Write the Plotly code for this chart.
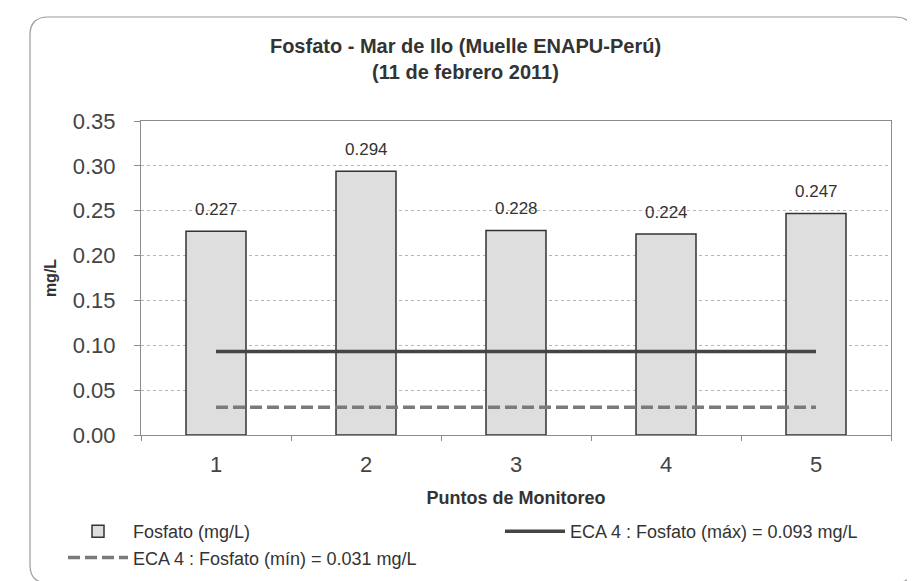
import plotly.graph_objects as go

# ---- data ----
puntos = ["1", "2", "3", "4", "5"]
fosfato = [0.227, 0.294, 0.228, 0.224, 0.247]
eca_max = [0.093, 0.093, 0.093, 0.093, 0.093]
eca_min = [0.031, 0.031, 0.031, 0.031, 0.031]
y_ticks = [0.00, 0.05, 0.10, 0.15, 0.20, 0.25, 0.30, 0.35]

W, H = 915, 581
L, R, T, B = 133, 32, 113, 154
pw, ph = W - L - R, H - T - B

def px2x(px):
    return (px - L) / pw

def py2y(py):
    return (H - B - py) / ph

SANS = "Liberation Sans, Arial"

fig = go.Figure()
fig.add_trace(go.Bar(
    x=puntos, y=fosfato, name="Fosfato (mg/L)",
    marker=dict(color="#dedede", line=dict(color="#333333", width=1.5)),
    width=0.4, legend="legend",
))
fig.add_trace(go.Scatter(
    x=puntos, y=eca_max, mode="lines",
    name="ECA 4 : Fosfato (máx) = 0.093 mg/L",
    line=dict(color="#454545", width=3.5), legend="legend2",
))
fig.add_trace(go.Scatter(
    x=puntos, y=eca_min, mode="lines",
    name="ECA 4 : Fosfato (mín) = 0.031 mg/L",
    line=dict(color="#7a7a7a", width=3.5, dash="12px,5px"), legend="legend",
))

for i, v in enumerate(fosfato):
    fig.add_annotation(x=i, y=v, text=f"{v:.3f}", showarrow=False,
                       yshift=22, font=dict(family=SANS, size=17, color="#333"))

# rounded border around the chart
x0, x1 = px2x(22), px2x(905)
y0, y1 = py2y(575), py2y(9)
rx, ry = 18 / pw, 18 / ph
path = (f"M {x0+rx},{y1} L {x1-rx},{y1} Q {x1},{y1} {x1},{y1-ry} "
        f"L {x1},{y0+ry} Q {x1},{y0} {x1-rx},{y0} L {x0+rx},{y0} "
        f"Q {x0},{y0} {x0},{y0+ry} L {x0},{y1-ry} Q {x0},{y1} {x0+rx},{y1} Z")
fig.add_shape(type="path", path=path, xref="paper", yref="paper",
              line=dict(color="#9a9a9a", width=1.2), layer="below")

legend_font = dict(family=SANS, size=18, color="#333")
fig.update_layout(
    width=W, height=H,
    margin=dict(l=L, r=R, t=T, b=B, autoexpand=False),
    paper_bgcolor="white", plot_bgcolor="white",
    title=dict(text="Fosfato - Mar de Ilo (Muelle ENAPU-Perú)<br>(11 de febrero 2011)",
               x=0.5, xref="container", xanchor="center",
               y=1 - 45 / H, yref="container", yanchor="top",
               font=dict(family=SANS, size=20, color="#333", weight="bold")),
    showlegend=True,
    legend=dict(orientation="v", x=px2x(55), xanchor="left",
                y=py2y(505), yanchor="top", itemwidth=60,
                font=legend_font, traceorder="normal",
                bgcolor="rgba(0,0,0,0)", tracegroupgap=0),
    legend2=dict(orientation="v", x=px2x(492), xanchor="left",
                 y=py2y(505), yanchor="top", itemwidth=60,
                 font=legend_font, bgcolor="rgba(0,0,0,0)"),
    bargap=0.6,
)
fig.update_yaxes(range=[0, 0.35], tickvals=y_ticks, tickformat=".2f",
                 showgrid=True, gridcolor="#b5b5b5", griddash="dot", gridwidth=1,
                 showline=True, linecolor="#8c8c8c", linewidth=1, mirror=True,
                 ticks="outside", ticklen=6, tickcolor="#8c8c8c",
                 ticklabelstandoff=14, zeroline=False, automargin=False,
                 tickfont=dict(family=SANS, size=22, color="#444"),
                 title=dict(text="mg/L", standoff=12,
                            font=dict(family=SANS, size=16, color="#333", weight="bold")))
fig.update_xaxes(type="category", showgrid=False, automargin=False,
                 range=[-0.5, 4.5],
                 showline=True, linecolor="#8c8c8c", linewidth=1, mirror=True,
                 ticks="outside", ticklen=5, tickson="boundaries", tickcolor="#8c8c8c",
                 ticklabelstandoff=10,
                 tickfont=dict(family=SANS, size=22, color="#444"),
                 title=dict(text="Puntos de Monitoreo", standoff=14,
                            font=dict(family=SANS, size=18, color="#333", weight="bold")))

fig.write_html("out.html")
